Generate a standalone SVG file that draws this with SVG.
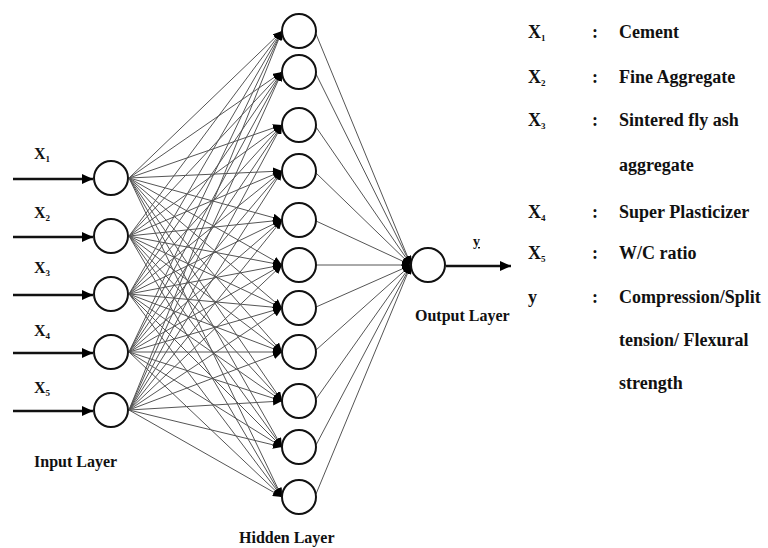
<svg xmlns="http://www.w3.org/2000/svg" width="768" height="548" viewBox="0 0 768 548">
<defs>
<style>
.node{fill:#fff;stroke:#111;stroke-width:2}
.c{stroke:#555;stroke-width:1;fill:none;marker-end:url(#sm)}
.inarr{stroke:#111;stroke-width:2.5;fill:none;marker-end:url(#big)}
text{font-family:"Liberation Serif","Times New Roman",serif;font-weight:bold;fill:#111}
.lbl{font-size:16px}
.leg{font-size:18px}
.sub{font-size:9px}
</style>
<marker id="sm" markerUnits="userSpaceOnUse" markerWidth="10" markerHeight="8" refX="9" refY="4" orient="auto"><path d="M0,0 L9,4 L0,8 Z" fill="#000"/></marker>
<marker id="big" markerUnits="userSpaceOnUse" markerWidth="12" markerHeight="10" refX="11" refY="5" orient="auto"><path d="M0,0 L11,5 L0,10 Z" fill="#000"/></marker>
</defs>
<rect width="768" height="548" fill="#fff"/>
<g id="connectors">
<line class="inarr" x1="13" y1="179" x2="93" y2="179"/>
<line class="inarr" x1="13" y1="237" x2="93" y2="237"/>
<line class="inarr" x1="13" y1="295" x2="93" y2="295"/>
<line class="inarr" x1="13" y1="353" x2="93" y2="353"/>
<line class="inarr" x1="13" y1="411" x2="93" y2="411"/>
<line class="inarr" x1="446" y1="266" x2="511" y2="266"/>
<!-- input 1 -->
<line class="c" x1="129" y1="178" x2="282" y2="31"/><line class="c" x1="129" y1="178" x2="282" y2="72"/><line class="c" x1="129" y1="178" x2="282" y2="125"/><line class="c" x1="129" y1="178" x2="282" y2="171"/><line class="c" x1="129" y1="178" x2="282" y2="220"/><line class="c" x1="129" y1="178" x2="282" y2="265"/><line class="c" x1="129" y1="178" x2="282" y2="308"/><line class="c" x1="129" y1="178" x2="282" y2="352"/><line class="c" x1="129" y1="178" x2="282" y2="401"/><line class="c" x1="129" y1="178" x2="282" y2="447"/><line class="c" x1="129" y1="178" x2="282" y2="497"/>
<!-- input 2 -->
<line class="c" x1="129" y1="236" x2="282" y2="31"/><line class="c" x1="129" y1="236" x2="282" y2="72"/><line class="c" x1="129" y1="236" x2="282" y2="125"/><line class="c" x1="129" y1="236" x2="282" y2="171"/><line class="c" x1="129" y1="236" x2="282" y2="220"/><line class="c" x1="129" y1="236" x2="282" y2="265"/><line class="c" x1="129" y1="236" x2="282" y2="308"/><line class="c" x1="129" y1="236" x2="282" y2="352"/><line class="c" x1="129" y1="236" x2="282" y2="401"/><line class="c" x1="129" y1="236" x2="282" y2="447"/><line class="c" x1="129" y1="236" x2="282" y2="497"/>
<!-- input 3 -->
<line class="c" x1="129" y1="294" x2="282" y2="31"/><line class="c" x1="129" y1="294" x2="282" y2="72"/><line class="c" x1="129" y1="294" x2="282" y2="125"/><line class="c" x1="129" y1="294" x2="282" y2="171"/><line class="c" x1="129" y1="294" x2="282" y2="220"/><line class="c" x1="129" y1="294" x2="282" y2="265"/><line class="c" x1="129" y1="294" x2="282" y2="308"/><line class="c" x1="129" y1="294" x2="282" y2="352"/><line class="c" x1="129" y1="294" x2="282" y2="401"/><line class="c" x1="129" y1="294" x2="282" y2="447"/><line class="c" x1="129" y1="294" x2="282" y2="497"/>
<!-- input 4 -->
<line class="c" x1="129" y1="352" x2="282" y2="31"/><line class="c" x1="129" y1="352" x2="282" y2="72"/><line class="c" x1="129" y1="352" x2="282" y2="125"/><line class="c" x1="129" y1="352" x2="282" y2="171"/><line class="c" x1="129" y1="352" x2="282" y2="220"/><line class="c" x1="129" y1="352" x2="282" y2="265"/><line class="c" x1="129" y1="352" x2="282" y2="308"/><line class="c" x1="129" y1="352" x2="282" y2="352"/><line class="c" x1="129" y1="352" x2="282" y2="401"/><line class="c" x1="129" y1="352" x2="282" y2="447"/><line class="c" x1="129" y1="352" x2="282" y2="497"/>
<!-- input 5 -->
<line class="c" x1="129" y1="410" x2="282" y2="31"/><line class="c" x1="129" y1="410" x2="282" y2="72"/><line class="c" x1="129" y1="410" x2="282" y2="125"/><line class="c" x1="129" y1="410" x2="282" y2="171"/><line class="c" x1="129" y1="410" x2="282" y2="220"/><line class="c" x1="129" y1="410" x2="282" y2="265"/><line class="c" x1="129" y1="410" x2="282" y2="308"/><line class="c" x1="129" y1="410" x2="282" y2="352"/><line class="c" x1="129" y1="410" x2="282" y2="401"/><line class="c" x1="129" y1="410" x2="282" y2="447"/><line class="c" x1="129" y1="410" x2="282" y2="497"/>
<!-- hidden to output -->
<line class="c" x1="316" y1="34" x2="411" y2="265"/><line class="c" x1="316" y1="74" x2="411" y2="265"/><line class="c" x1="316" y1="127" x2="411" y2="265"/><line class="c" x1="316" y1="173" x2="411" y2="265"/><line class="c" x1="316" y1="221" x2="411" y2="265"/><line class="c" x1="316" y1="265" x2="411" y2="265"/><line class="c" x1="316" y1="307" x2="411" y2="265"/><line class="c" x1="316" y1="350" x2="411" y2="265"/><line class="c" x1="316" y1="399" x2="411" y2="265"/><line class="c" x1="316" y1="445" x2="411" y2="265"/><line class="c" x1="316" y1="494" x2="411" y2="265"/>
</g>
<g id="input1"><circle class="node" cx="111" cy="178" r="17"/><text class="lbl" x="34" y="159">X<tspan class="sub" dy="3">1</tspan></text></g>
<g id="input2"><circle class="node" cx="111" cy="236" r="17"/><text class="lbl" x="34" y="218">X<tspan class="sub" dy="3">2</tspan></text></g>
<g id="input3"><circle class="node" cx="111" cy="294" r="17"/><text class="lbl" x="34" y="273">X<tspan class="sub" dy="3">3</tspan></text></g>
<g id="input4"><circle class="node" cx="111" cy="352" r="17"/><text class="lbl" x="34" y="336">X<tspan class="sub" dy="3">4</tspan></text></g>
<g id="input5"><circle class="node" cx="111" cy="410" r="17"/><text class="lbl" x="34" y="393">X<tspan class="sub" dy="3">5</tspan></text></g>
<g id="h1"><circle class="node" cx="299" cy="31" r="17"/></g>
<g id="h2"><circle class="node" cx="299" cy="72" r="17"/></g>
<g id="h3"><circle class="node" cx="299" cy="125" r="17"/></g>
<g id="h4"><circle class="node" cx="299" cy="171" r="17"/></g>
<g id="h5"><circle class="node" cx="299" cy="220" r="17"/></g>
<g id="h6"><circle class="node" cx="299" cy="265" r="17"/></g>
<g id="h7"><circle class="node" cx="299" cy="308" r="17"/></g>
<g id="h8"><circle class="node" cx="299" cy="352" r="17"/></g>
<g id="h9"><circle class="node" cx="299" cy="401" r="17"/></g>
<g id="h10"><circle class="node" cx="299" cy="447" r="17"/></g>
<g id="h11"><circle class="node" cx="299" cy="497" r="17"/></g>
<g id="output"><circle class="node" cx="428" cy="265" r="17"/><text x="473" y="246" style="font-size:14px;text-decoration:underline">y</text></g>
<g id="labels">
<text class="lbl" x="34" y="467">Input Layer</text>
<text class="lbl" x="239" y="543">Hidden Layer</text>
<text class="lbl" x="415" y="321">Output Layer</text>
</g>
<g id="legend" class="leg">
<text class="leg" x="528" y="38">X<tspan class="sub" dy="3">1</tspan></text><text class="leg" x="592" y="38">:</text><text class="leg" x="619" y="38">Cement</text>
<text class="leg" x="528" y="83">X<tspan class="sub" dy="3">2</tspan></text><text class="leg" x="592" y="83">:</text><text class="leg" x="619" y="83">Fine Aggregate</text>
<text class="leg" x="528" y="126">X<tspan class="sub" dy="3">3</tspan></text><text class="leg" x="592" y="126">:</text><text class="leg" x="619" y="126">Sintered fly ash</text>
<text class="leg" x="619" y="171">aggregate</text>
<text class="leg" x="528" y="218">X<tspan class="sub" dy="3">4</tspan></text><text class="leg" x="592" y="218">:</text><text class="leg" x="619" y="218">Super Plasticizer</text>
<text class="leg" x="528" y="259">X<tspan class="sub" dy="3">5</tspan></text><text class="leg" x="592" y="259">:</text><text class="leg" x="619" y="259">W/C ratio</text>
<text class="leg" x="528" y="303">y</text><text class="leg" x="592" y="303">:</text><text class="leg" x="619" y="303">Compression/Split</text>
<text class="leg" x="619" y="346">tension/ Flexural</text>
<text class="leg" x="619" y="389">strength</text>
</g>
</svg>
